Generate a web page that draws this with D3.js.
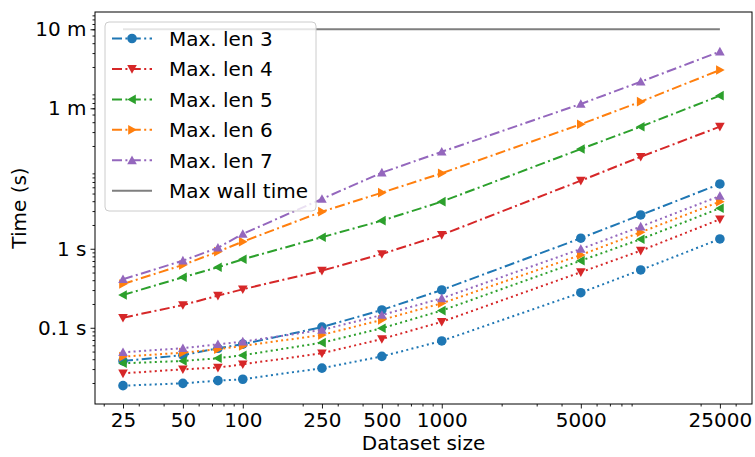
<!DOCTYPE html>
<html>
<head>
<meta charset="utf-8">
<script src="https://cdn.jsdelivr.net/npm/d3@7"></script>
<style>
  html, body { margin: 0; padding: 0; background: #fff; }
  svg { display: block; font-family: "DejaVu Sans", sans-serif; }
</style>
</head>
<body>
<svg id="chart" width="755" height="457"></svg>
<script>
// ---------------- data ----------------
const sizes = [25, 50, 75, 100, 250, 500, 1000, 5000, 10000, 25000];
const lengths = [3, 4, 5, 6, 7];
// dash-dot series (labelled in legend)
const len3DashDot = [0.038, 0.045, 0.055, 0.062, 0.102, 0.168, 0.301, 1.36, 2.68, 6.61];
const len4DashDot = [0.134, 0.194, 0.255, 0.307, 0.528, 0.859, 1.50, 7.28, 14.6, 35.1];
const len5DashDot = [0.260, 0.436, 0.583, 0.736, 1.40, 2.27, 3.95, 18.3, 35.1, 86.7];
const len6DashDot = [0.358, 0.624, 0.919, 1.23, 2.95, 5.13, 9.03, 37.7, 72.8, 183];
const len7DashDot = [0.411, 0.707, 1.03, 1.54, 4.27, 9.19, 16.9, 68.1, 130, 313];
// dotted series
const len3Dotted = [0.0185, 0.0198, 0.0214, 0.0223, 0.0308, 0.0434, 0.0681, 0.278, 0.539, 1.33];
const len4Dotted = [0.0265, 0.0298, 0.0313, 0.0345, 0.0475, 0.0721, 0.119, 0.505, 0.946, 2.36];
const len5Dotted = [0.0355, 0.0380, 0.0411, 0.0449, 0.0648, 0.0986, 0.165, 0.707, 1.32, 3.26];
const len6Dotted = [0.0431, 0.0484, 0.0534, 0.0589, 0.0811, 0.126, 0.204, 0.835, 1.62, 3.95];
const len7Dotted = [0.0490, 0.0551, 0.0618, 0.0667, 0.0938, 0.145, 0.236, 0.994, 1.91, 4.66];
const wallTime = 600; // seconds
const xTickValues = [25, 50, 100, 250, 500, 1000, 5000, 25000];
const yTickValues = [0.1, 1, 60, 600];
const yTickLabels = ["0.1 s", "1 s", "1 m", "10 m"];
const legendLabels = ["Max. len 3", "Max. len 4", "Max. len 5", "Max. len 6", "Max. len 7", "Max wall time"];

// ---------------- style ----------------
const colors = ["#1f77b4", "#d62728", "#2ca02c", "#ff7f0e", "#9467bd"];
const markers = ["circle", "down", "left", "right", "up"];
const dashDotSeries = [len3DashDot, len4DashDot, len5DashDot, len6DashDot, len7DashDot];
const dottedSeries = [len3Dotted, len4Dotted, len5Dotted, len6Dotted, len7Dotted];

const L = 95, R = 752, T = 12, B = 404;
const svg = d3.select("#chart");

const x = d3.scaleLog().domain([18.08, 36250]).range([L, R]);
const y = d3.scaleLog().domain([0.01084, 993]).range([B, T]);

function markerPath(type, s) {
  if (type === "circle") return d3.symbol(d3.symbolCircle, Math.PI * s * s)();
  const h = s;
  let pts;
  if (type === "up") pts = [[0, -h], [-h, h * 0.8], [h, h * 0.8]];
  else if (type === "down") pts = [[0, h], [-h, -h * 0.8], [h, -h * 0.8]];
  else if (type === "left") pts = [[-h, 0], [h * 0.8, -h], [h * 0.8, h]];
  else pts = [[h, 0], [-h * 0.8, -h], [-h * 0.8, h]];
  return "M" + pts.map(p => p.join(",")).join("L") + "Z";
}

const DASHDOT = "10,3.4,2,3.4";
const DOTTED = "2,3.3";
const MS = 4.8;
const line = d3.line().x((d, i) => x(sizes[i])).y(d => y(d));

// ---------------- axes ----------------
function minorTicks(lo, hi) {
  const out = [];
  for (let e = -3; e <= 5; e++) {
    for (let m = 2; m <= 9; m++) {
      const v = m * Math.pow(10, e);
      if (v >= lo && v <= hi) out.push(v);
    }
  }
  return out;
}
const xMinor = minorTicks(18.08, 36250).filter(v => !xTickValues.some(t => Math.abs(t - v) / v < 1e-6));
const yMinor = minorTicks(0.01084, 993);

const xAxis = d3.axisBottom(x).tickValues(xTickValues).tickFormat(d3.format("d")).tickSize(4.5).tickPadding(4);
const xAxisMinor = d3.axisBottom(x).tickValues(xMinor).tickFormat("").tickSize(2.5);
const yAxis = d3.axisLeft(y).tickValues(yTickValues).tickFormat((d, i) => yTickLabels[i]).tickSize(4.5).tickPadding(4);
const yAxisMinor = d3.axisLeft(y).tickValues(yMinor).tickFormat("").tickSize(2.5);

function styleAxis(g) {
  g.select(".domain").remove();
  g.selectAll("line").attr("stroke", "#000").attr("stroke-width", 0.9);
  g.selectAll("text").attr("fill", "#000").attr("font-size", 20).attr("font-family", "DejaVu Sans, sans-serif");
}
svg.append("g").attr("transform", `translate(0,${B})`).call(xAxisMinor).call(styleAxis);
svg.append("g").attr("transform", `translate(0,${B})`).call(xAxis).call(styleAxis);
svg.append("g").attr("transform", `translate(${L},0)`).call(yAxisMinor).call(styleAxis);
svg.append("g").attr("transform", `translate(${L},0)`).call(yAxis).call(styleAxis);

// ---------------- plot ----------------
const plot = svg.append("g");
// wall time
plot.append("line")
  .attr("x1", x(sizes[0])).attr("x2", x(sizes[sizes.length - 1]))
  .attr("y1", y(wallTime)).attr("y2", y(wallTime))
  .attr("stroke", "#7f7f7f").attr("stroke-width", 2);

lengths.forEach((len, k) => {
  [[dashDotSeries[k], DASHDOT], [dottedSeries[k], DOTTED]].forEach(([vals, dash]) => {
    plot.append("path").datum(vals)
      .attr("d", line)
      .attr("fill", "none")
      .attr("stroke", colors[k])
      .attr("stroke-width", 2)
      .attr("stroke-dasharray", dash);
    plot.selectAll(null).data(vals).enter().append("path")
      .attr("d", markerPath(markers[k], MS))
      .attr("transform", (d, i) => `translate(${x(sizes[i])},${y(d)})`)
      .attr("fill", colors[k]);
  });
});

// frame
svg.append("rect").attr("x", L).attr("y", T).attr("width", R - L).attr("height", B - T)
  .attr("fill", "none").attr("stroke", "#000").attr("stroke-width", 1);

// ---------------- labels ----------------
svg.append("text").attr("x", (L + R) / 2).attr("y", 450).attr("text-anchor", "middle")
  .attr("font-size", 20).attr("fill", "#000").text("Dataset size");
svg.append("text").attr("transform", `translate(26,${(T + B) / 2}) rotate(-90)`)
  .attr("text-anchor", "middle").attr("font-size", 20).attr("fill", "#000").text("Time (s)");

// ---------------- legend ----------------
const lg = svg.append("g");
lg.append("rect").attr("x", 105).attr("y", 22).attr("width", 211).attr("height", 189)
  .attr("rx", 4).attr("fill", "#fff").attr("fill-opacity", 0.8)
  .attr("stroke", "#cccccc").attr("stroke-width", 1);
legendLabels.forEach((lab, i) => {
  const cy = 38.5 + i * 30.45;
  const g = lg.append("g");
  if (i < 5) {
    g.append("line").attr("x1", 112).attr("x2", 152).attr("y1", cy).attr("y2", cy)
      .attr("stroke", colors[i]).attr("stroke-width", 2).attr("stroke-dasharray", DASHDOT);
    g.append("path").attr("d", markerPath(markers[i], MS))
      .attr("transform", `translate(132,${cy})`).attr("fill", colors[i]);
  } else {
    g.append("line").attr("x1", 112).attr("x2", 152).attr("y1", cy).attr("y2", cy)
      .attr("stroke", "#7f7f7f").attr("stroke-width", 2);
  }
  g.append("text").attr("x", 169).attr("y", cy).attr("dy", "0.36em")
    .attr("font-size", 20).attr("fill", "#000").text(lab);
});
</script>
</body>
</html>
